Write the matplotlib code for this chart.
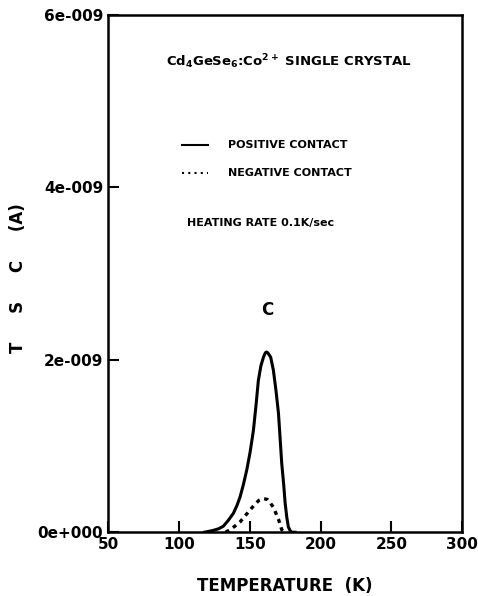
import numpy as np
import matplotlib
matplotlib.use("Agg")
import matplotlib.pyplot as plt
from matplotlib.ticker import FixedLocator, FuncFormatter

plt.rcParams["font.family"] = ["DejaVu Sans"]
plt.rcParams["font.weight"] = "bold"
plt.rcParams["mathtext.default"] = "bf"

# positive contact (solid) TSC curve, current in A
temp_pos = [118, 124, 128, 131.4, 135, 138.5, 141, 143.2, 145.5, 147.9, 150.3, 152.6,
            154.5, 156.1, 157.9, 159.7, 161, 161.8, 162.8, 164.8, 166.7, 168.5,
            170.3, 171.5, 172.6, 174, 175, 176.2, 177.3, 178.5, 179.6, 182]
tsc_pos = [0.0, 0.02e-9, 0.04e-9, 0.07e-9, 0.14e-9, 0.22e-9, 0.31e-9, 0.41e-9,
           0.55e-9, 0.72e-9, 0.93e-9, 1.18e-9, 1.48e-9, 1.76e-9, 1.93e-9,
           2.03e-9, 2.08e-9, 2.09e-9, 2.08e-9, 2.03e-9, 1.88e-9, 1.65e-9,
           1.38e-9, 1.08e-9, 0.80e-9, 0.55e-9, 0.34e-9, 0.17e-9, 0.06e-9,
           0.02e-9, 0.0, 0.0]

# negative contact (dotted)
temp_neg = [133, 136.2, 139.5, 143.2, 146.8, 150.3, 153.5, 156.5, 159.7, 162.5,
            164.5, 166.7, 168.5, 170.3, 171.5, 172.6, 174]
tsc_neg = [0.0, 0.03e-9, 0.07e-9, 0.12e-9, 0.19e-9, 0.26e-9, 0.32e-9, 0.37e-9,
           0.39e-9, 0.38e-9, 0.34e-9, 0.29e-9, 0.22e-9, 0.15e-9, 0.09e-9,
           0.03e-9, 0.0]

x_ticks = [50, 100, 150, 200, 250, 300]
y_ticks = [0, 2e-9, 4e-9, 6e-9]
y_labels = ["0e+000", "2e-009", "4e-009", "6e-009"]

fig = plt.figure(figsize=(4.78, 5.96), dpi=100)
ax = fig.add_axes([0.226, 0.107, 0.741, 0.868])

ax.plot(temp_pos, tsc_pos, color="black", lw=2.2, solid_joinstyle="round")
ax.plot(temp_neg, tsc_neg, color="black", lw=2.4, ls=(0, (1.2, 1.4)))

ax.set_xlim(50, 300)
ax.set_ylim(0, 6e-9)
ax.xaxis.set_major_locator(FixedLocator(x_ticks))
ax.yaxis.set_major_locator(FixedLocator(y_ticks))
ax.yaxis.set_major_formatter(FuncFormatter(lambda v, p: y_labels[y_ticks.index(v)] if v in y_ticks else ""))
ax.tick_params(direction="in", length=8, width=1.5, labelsize=11, top=False, right=False)
for lab in ax.get_xticklabels() + ax.get_yticklabels():
    lab.set_fontweight("bold")
for sp in ax.spines.values():
    sp.set_linewidth(1.8)

ax.set_xlabel("TEMPERATURE  (K)", fontsize=12, fontweight="bold", labelpad=18)
fig.text(0.038, 0.533, "T     S     C     (A)", rotation=90, fontsize=12,
         fontweight="bold", ha="center", va="center")

ax.text(0.511, 0.909, r"Cd$_4$GeSe$_6$:Co$^{2+}$ SINGLE CRYSTAL", transform=ax.transAxes,
        ha="center", va="center", fontsize=9.5, fontweight="bold")

ax.plot([0.209, 0.282], [0.749, 0.749], transform=ax.transAxes, color="black", lw=1.5)
ax.text(0.339, 0.749, "POSITIVE CONTACT", transform=ax.transAxes, ha="left",
        va="center", fontsize=8, fontweight="bold")
ax.plot([0.209, 0.282], [0.694, 0.694], transform=ax.transAxes, color="black", lw=1.5,
        ls=(0, (1, 2)))
ax.text(0.339, 0.694, "NEGATIVE CONTACT", transform=ax.transAxes, ha="left",
        va="center", fontsize=8, fontweight="bold")
ax.text(0.223, 0.598, "HEATING RATE 0.1K/sec", transform=ax.transAxes, ha="left",
        va="center", fontsize=8, fontweight="bold")
ax.text(0.449, 0.43, "C", transform=ax.transAxes, ha="center", va="center",
        fontsize=12, fontweight="bold")

fig.savefig("out.png", dpi=100)
